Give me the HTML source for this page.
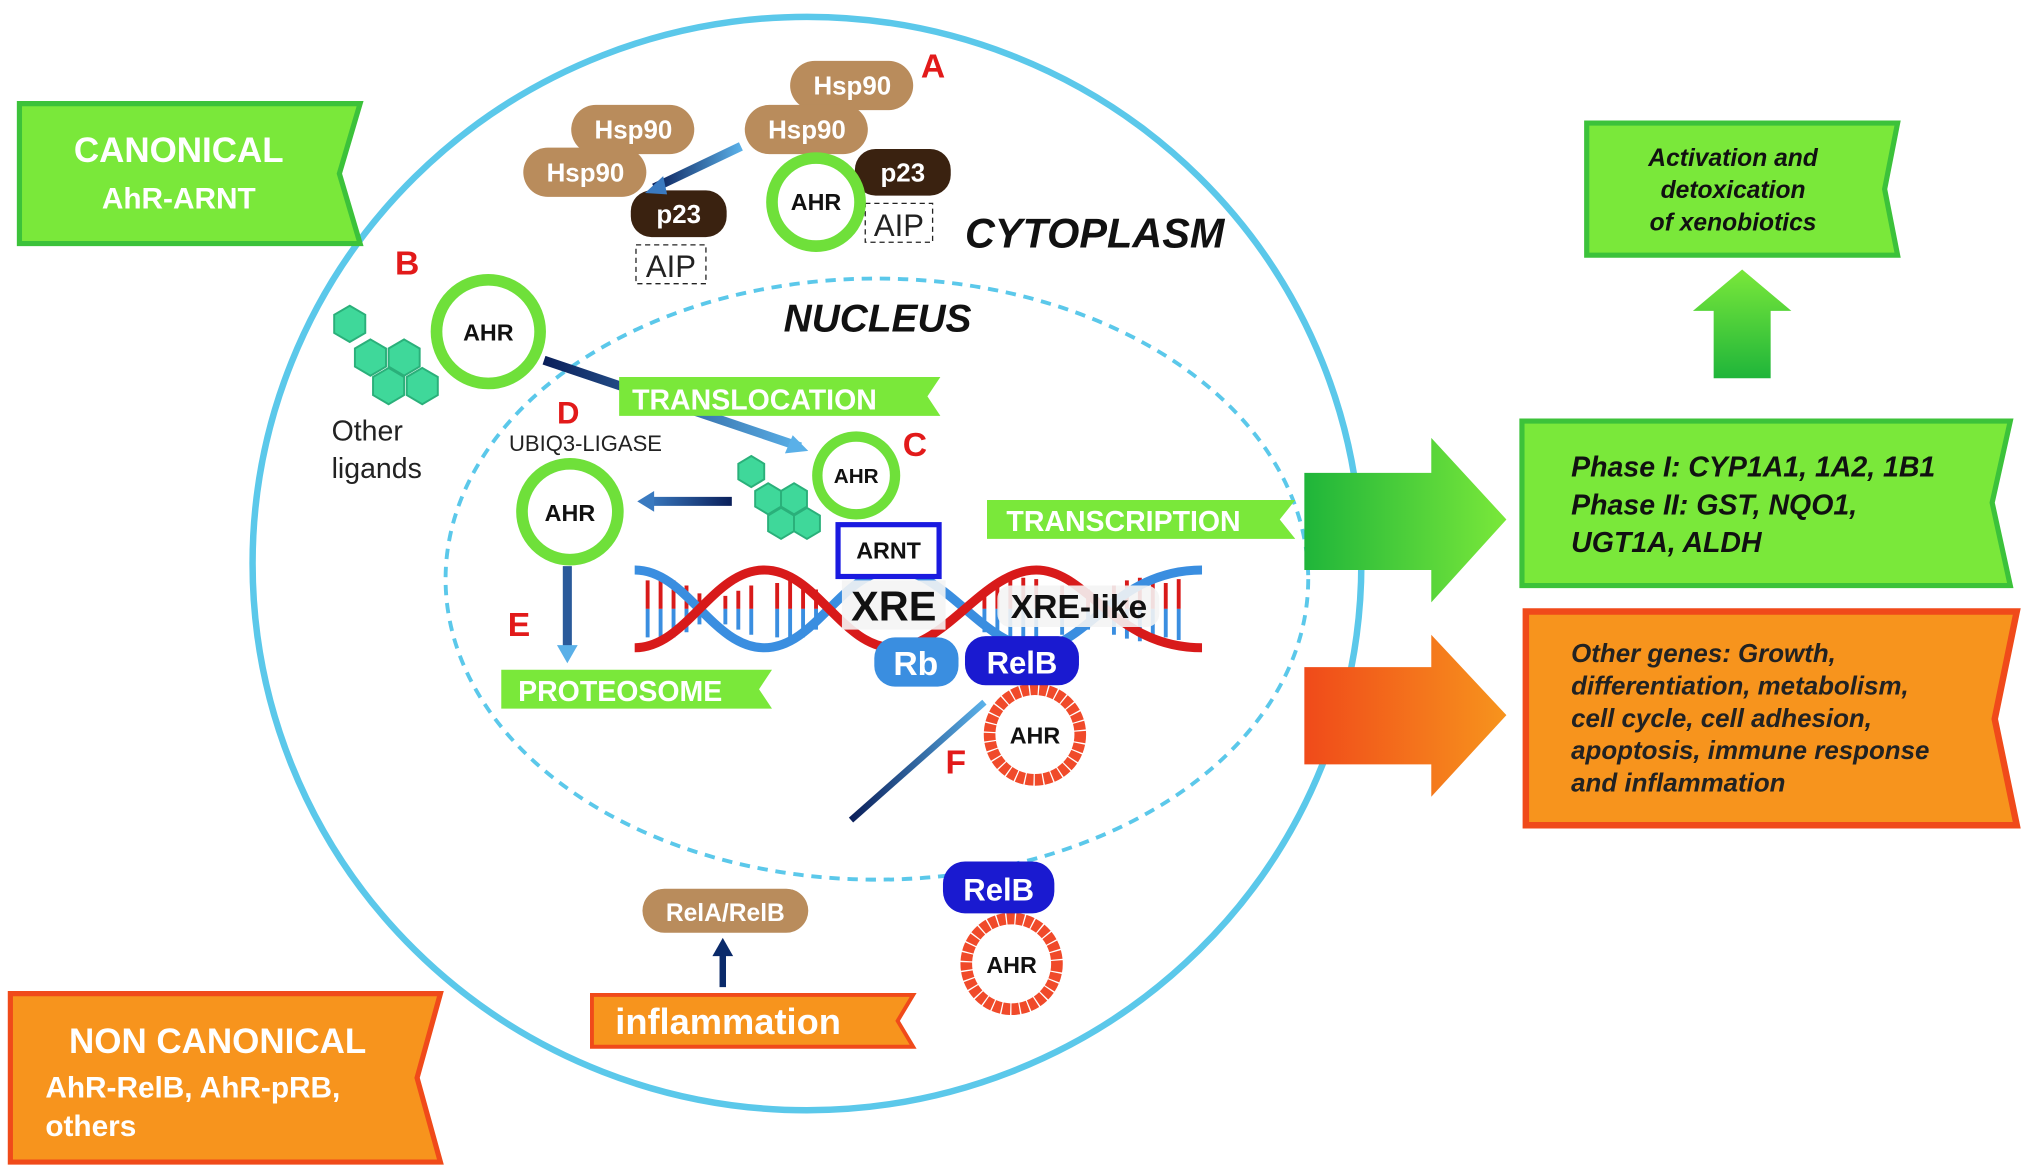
<!DOCTYPE html>
<html><head><meta charset="utf-8"><style>
html,body{margin:0;padding:0;background:#fff;}
svg{display:block;}
text{font-family:"Liberation Sans",sans-serif;font-weight:bold;}
</style></head><body>
<svg width="2031" height="1175" viewBox="0 0 1568 907" preserveAspectRatio="none" xmlns="http://www.w3.org/2000/svg">
<defs>
<linearGradient id="ga" x1="0" x2="1"><stop offset="0" stop-color="#1fb53a"/><stop offset="1" stop-color="#7ae83a"/></linearGradient>
<linearGradient id="oa" x1="0" x2="1"><stop offset="0" stop-color="#f04a1a"/><stop offset="1" stop-color="#f7941d"/></linearGradient>
<linearGradient id="gu" x1="0" y1="1" x2="0" y2="0"><stop offset="0" stop-color="#1fb53a"/><stop offset="1" stop-color="#7ae83a"/></linearGradient>
<linearGradient id="bl" x1="0" x2="1"><stop offset="0" stop-color="#0a1f5a"/><stop offset="1" stop-color="#5ab0e8"/></linearGradient>
<linearGradient id="bh" gradientUnits="userSpaceOnUse" x1="565" y1="0" x2="500" y2="0"><stop offset="0" stop-color="#0a1f5a"/><stop offset="1" stop-color="#3a7ac0"/></linearGradient>
</defs>
<ellipse cx="623" cy="435" rx="428" ry="422" fill="none" stroke="#5bc8ea" stroke-width="5"/>
<ellipse cx="677" cy="447" rx="333" ry="232" fill="none" stroke="#5bc8ea" stroke-width="3" stroke-dasharray="8,6"/>
<polygon points="15,80 278,80 262,134 278,188 15,188" fill="#7ae83a" stroke="#3cc23a" stroke-width="4"/>
<text x="138" y="125" font-size="27" fill="#fff" text-anchor="middle">CANONICAL</text>
<text x="138" y="161" font-size="23" fill="#fff" text-anchor="middle">AhR-ARNT</text>
<polygon points="8,767 340,767 322,832 340,897 8,897" fill="#f7941d" stroke="#f04a1a" stroke-width="4"/>
<text x="168" y="813" font-size="27" fill="#fff" text-anchor="middle">NON CANONICAL</text>
<text x="35" y="847" font-size="23" fill="#fff">AhR-RelB, AhR-pRB,</text>
<text x="35" y="877" font-size="23" fill="#fff">others</text>
<polygon points="1225,95 1465,95 1455,146 1465,197 1225,197" fill="#7ae83a" stroke="#3cc23a" stroke-width="4"/>
<text x="1338" y="128" font-size="19" font-style="italic" fill="#111" text-anchor="middle">Activation and</text>
<text x="1338" y="153" font-size="19" font-style="italic" fill="#111" text-anchor="middle">detoxication</text>
<text x="1338" y="178" font-size="19" font-style="italic" fill="#111" text-anchor="middle">of xenobiotics</text>
<polygon points="1345,208 1383,240 1367,240 1367,292 1323,292 1323,240 1307,240" fill="url(#gu)"/>
<polygon points="1175,325 1552,325 1538,388 1552,452 1175,452" fill="#7ae83a" stroke="#3cc23a" stroke-width="4"/>
<text x="1213" y="368" font-size="22" font-style="italic" fill="#111">Phase I: CYP1A1, 1A2, 1B1</text>
<text x="1213" y="397" font-size="22" font-style="italic" fill="#111">Phase II: GST, NQO1,</text>
<text x="1213" y="426" font-size="22" font-style="italic" fill="#111">UGT1A, ALDH</text>
<polygon points="1178,472 1557,472 1540,555 1557,637 1178,637" fill="#f7941d" stroke="#f04a1a" stroke-width="5"/>
<g font-size="20" font-style="italic" fill="#222">
<text x="1213" y="511">Other genes: Growth,</text>
<text x="1213" y="536">differentiation, metabolism,</text>
<text x="1213" y="561">cell cycle, cell adhesion,</text>
<text x="1213" y="586">apoptosis, immune response</text>
<text x="1213" y="611">and inflammation</text></g>
<polygon points="1007,365 1105,365 1105,338 1163,401 1105,465 1105,440 1007,440" fill="url(#ga)"/>
<polygon points="1007,515 1105,515 1105,490 1163,552 1105,615 1105,590 1007,590" fill="url(#oa)"/>
<g font-size="20" fill="#fff" text-anchor="middle">
<rect x="610" y="47" width="95" height="38" rx="19" fill="#b98c5c"/><text x="658" y="73">Hsp90</text>
<rect x="575" y="81" width="95" height="38" rx="19" fill="#b98c5c"/><text x="623" y="107">Hsp90</text>
<rect x="441" y="81" width="95" height="38" rx="19" fill="#b98c5c"/><text x="489" y="107">Hsp90</text>
<rect x="404" y="114" width="95" height="38" rx="19" fill="#b98c5c"/><text x="452" y="140">Hsp90</text>
<rect x="660" y="115" width="74" height="36" rx="16" fill="#3a2210"/><text x="697" y="140">p23</text>
<rect x="487" y="147" width="74" height="36" rx="16" fill="#3a2210"/><text x="524" y="172">p23</text>
</g>
<text x="711" y="60" font-size="26" fill="#e21a1a">A</text>
<rect x="668" y="157" width="52" height="30" fill="none" stroke="#222" stroke-dasharray="4,3"/>
<text x="694" y="182" font-size="24" fill="#222" text-anchor="middle" style="font-weight:normal">AIP</text>
<rect x="491" y="189" width="54" height="30" fill="none" stroke="#222" stroke-dasharray="4,3"/>
<text x="518" y="214" font-size="24" fill="#222" text-anchor="middle" style="font-weight:normal">AIP</text>
<line x1="572" y1="113" x2="505" y2="145" stroke="url(#bl)" stroke-width="7"/>
<polygon points="498,149 512,136 515,150" fill="#3a7ac0"/>
<g font-size="18" fill="#111" text-anchor="middle">
<circle cx="630" cy="156" r="34" fill="#fff" stroke="#6fe03a" stroke-width="9"/><text x="630" y="162">AHR</text>
<circle cx="377" cy="256" r="40" fill="#fff" stroke="#6fe03a" stroke-width="9"/><text x="377" y="263">AHR</text>
<circle cx="661" cy="367" r="30" fill="#fff" stroke="#6fe03a" stroke-width="8"/><text x="661" y="373" font-size="16">AHR</text>
<circle cx="440" cy="395" r="37" fill="#fff" stroke="#6fe03a" stroke-width="9"/><text x="440" y="402">AHR</text>
<circle cx="799" cy="567" r="35" fill="#fff" stroke="#f04a2a" stroke-width="9" stroke-dasharray="6,1"/><text x="799" y="574">AHR</text>
<circle cx="781" cy="744" r="35" fill="#fff" stroke="#f04a2a" stroke-width="9" stroke-dasharray="6,1"/><text x="781" y="751">AHR</text>
</g>
<text x="745" y="191" font-size="32" font-style="italic" fill="#111">CYTOPLASM</text>
<text x="605" y="256" font-size="30" font-style="italic" fill="#111">NUCLEUS</text>
<text x="305" y="212" font-size="26" fill="#e21a1a">B</text>
<text x="430" y="327" font-size="24" fill="#e21a1a">D</text>
<text x="697" y="352" font-size="26" fill="#e21a1a">C</text>
<text x="392" y="491" font-size="26" fill="#e21a1a">E</text>
<text x="730" y="597" font-size="26" fill="#e21a1a">F</text>
<g fill="#3fd89a" stroke="#2ab07a" stroke-width="1.5">
<polygon points="270,236 282,243 282,257 270,264 258,257 258,243"/>
<polygon points="286,262 298,269 298,283 286,290 274,283 274,269"/>
<polygon points="312,262 324,269 324,283 312,290 300,283 300,269"/>
<polygon points="300,284 312,291 312,305 300,312 288,305 288,291"/>
<polygon points="326,284 338,291 338,305 326,312 314,305 314,291"/>
<polygon points="580,352 590,358 590,370 580,376 570,370 570,358"/>
<polygon points="593,373 603,379 603,391 593,397 583,391 583,379"/>
<polygon points="613,373 623,379 623,391 613,397 603,391 603,379"/>
<polygon points="603,392 613,398 613,410 603,416 593,410 593,398"/>
<polygon points="623,392 633,398 633,410 623,416 613,410 613,398"/>
</g>
<text x="256" y="340" font-size="22" fill="#222" style="font-weight:normal">Other</text>
<text x="256" y="369" font-size="22" fill="#222" style="font-weight:normal">ligands</text>
<text x="393" y="348" font-size="17" fill="#222" style="font-weight:normal">UBIQ3-LIGASE</text>
<line x1="420" y1="278" x2="618" y2="345" stroke="url(#bl)" stroke-width="7"/>
<polygon points="624,348 606,350 612,336" fill="#5ab0e8"/>
<polygon points="478,291 726,291 716,306 726,321 478,321" fill="#7ae83a"/>
<text x="488" y="316" font-size="22" fill="#fff">TRANSLOCATION</text>
<line x1="565" y1="387" x2="502" y2="387" stroke="url(#bh)" stroke-width="7"/>
<polygon points="492,387 505,379 505,395" fill="#3a7ac0"/>
<line x1="438" y1="437" x2="438" y2="500" stroke="#2a5a9a" stroke-width="7"/>
<polygon points="438,512 430,498 446,498" fill="#5ab0e8"/>
<polygon points="387,517 596,517 586,532 596,547 387,547" fill="#7ae83a"/>
<text x="400" y="541" font-size="22" fill="#fff">PROTEOSOME</text>
<polygon points="762,386 1000,386 988,401 1000,416 762,416" fill="#7ae83a"/>
<text x="777" y="410" font-size="22" fill="#fff">TRANSCRIPTION</text>
<g stroke-width="3">
<path d="M500,448 V470 M510,445 V470 M520,448 V470 M530,452 V470 M540,458 V470 M560,460 V470 M570,456 V470 M580,452 V470 M600,450 V470 M610,448 V470 M620,450 V470 M630,455 V470 M760,455 V470 M770,450 V470 M780,447 V470 M790,446 V470 M800,447 V470 M820,452 V470 M840,455 V470 M860,452 V470 M870,448 V470 M880,446 V470 M890,447 V470 M900,450 V470 M910,447 V470" stroke="#d81a1a"/>
<path d="M500,470 V492 M510,470 V495 M520,470 V492 M530,470 V488 M540,470 V482 M560,470 V482 M570,470 V486 M580,470 V490 M600,470 V492 M610,470 V494 M620,470 V492 M630,470 V486 M760,470 V488 M770,470 V492 M780,470 V494 M790,470 V495 M800,470 V494 M820,470 V490 M840,470 V486 M860,470 V490 M870,470 V493 M880,470 V495 M890,470 V494 M900,470 V492 M910,470 V494" stroke="#3a8ee0"/>
</g>
<g fill="none" stroke-width="7">
<path d="M490,440 C530,440 550,500 590,500 C630,500 650,440 690,440 C730,440 760,500 800,500 C840,500 860,440 928,440" stroke="#3a8ee0"/>
<path d="M490,500 C530,500 550,440 590,440 C630,440 650,500 690,500 C730,500 760,440 800,440 C840,440 860,500 928,500" stroke="#d81a1a"/>
</g>
<rect x="650" y="448" width="80" height="38" fill="#f4f4f4" opacity="0.9"/>
<text x="690" y="479" font-size="32" fill="#111" text-anchor="middle">XRE</text>
<rect x="770" y="452" width="125" height="32" rx="10" fill="#f4f4f4" opacity="0.9"/>
<text x="833" y="477" font-size="26" fill="#111" text-anchor="middle">XRE-like</text>
<rect x="647" y="405" width="78" height="40" fill="#fff" stroke="#1a1ae0" stroke-width="4"/>
<text x="686" y="431" font-size="18" fill="#111" text-anchor="middle">ARNT</text>
<rect x="675" y="492" width="65" height="38" rx="16" fill="#3a8ee0"/>
<text x="707" y="521" font-size="26" fill="#fff" text-anchor="middle">Rb</text>
<rect x="745" y="491" width="88" height="38" rx="16" fill="#1a1ad0"/>
<text x="789" y="520" font-size="24" fill="#fff" text-anchor="middle">RelB</text>
<line x1="657" y1="633" x2="760" y2="542" stroke="url(#bl)" stroke-width="5"/>
<rect x="728" y="665" width="86" height="40" rx="17" fill="#1a1ad0"/>
<text x="771" y="695" font-size="24" fill="#fff" text-anchor="middle">RelB</text>
<rect x="496" y="686" width="128" height="34" rx="17" fill="#b98c5c"/>
<text x="560" y="711" font-size="19" fill="#fff" text-anchor="middle">RelA/RelB</text>
<line x1="558" y1="762" x2="558" y2="735" stroke="#0a2a6a" stroke-width="5"/>
<polygon points="558,724 550,738 566,738" fill="#0a2a6a"/>
<polygon points="457,768 705,768 693,788 705,808 457,808" fill="#f7941d" stroke="#f04a1a" stroke-width="3"/>
<text x="475" y="798" font-size="28" fill="#fff">inflammation</text>
</svg>
</body></html>
